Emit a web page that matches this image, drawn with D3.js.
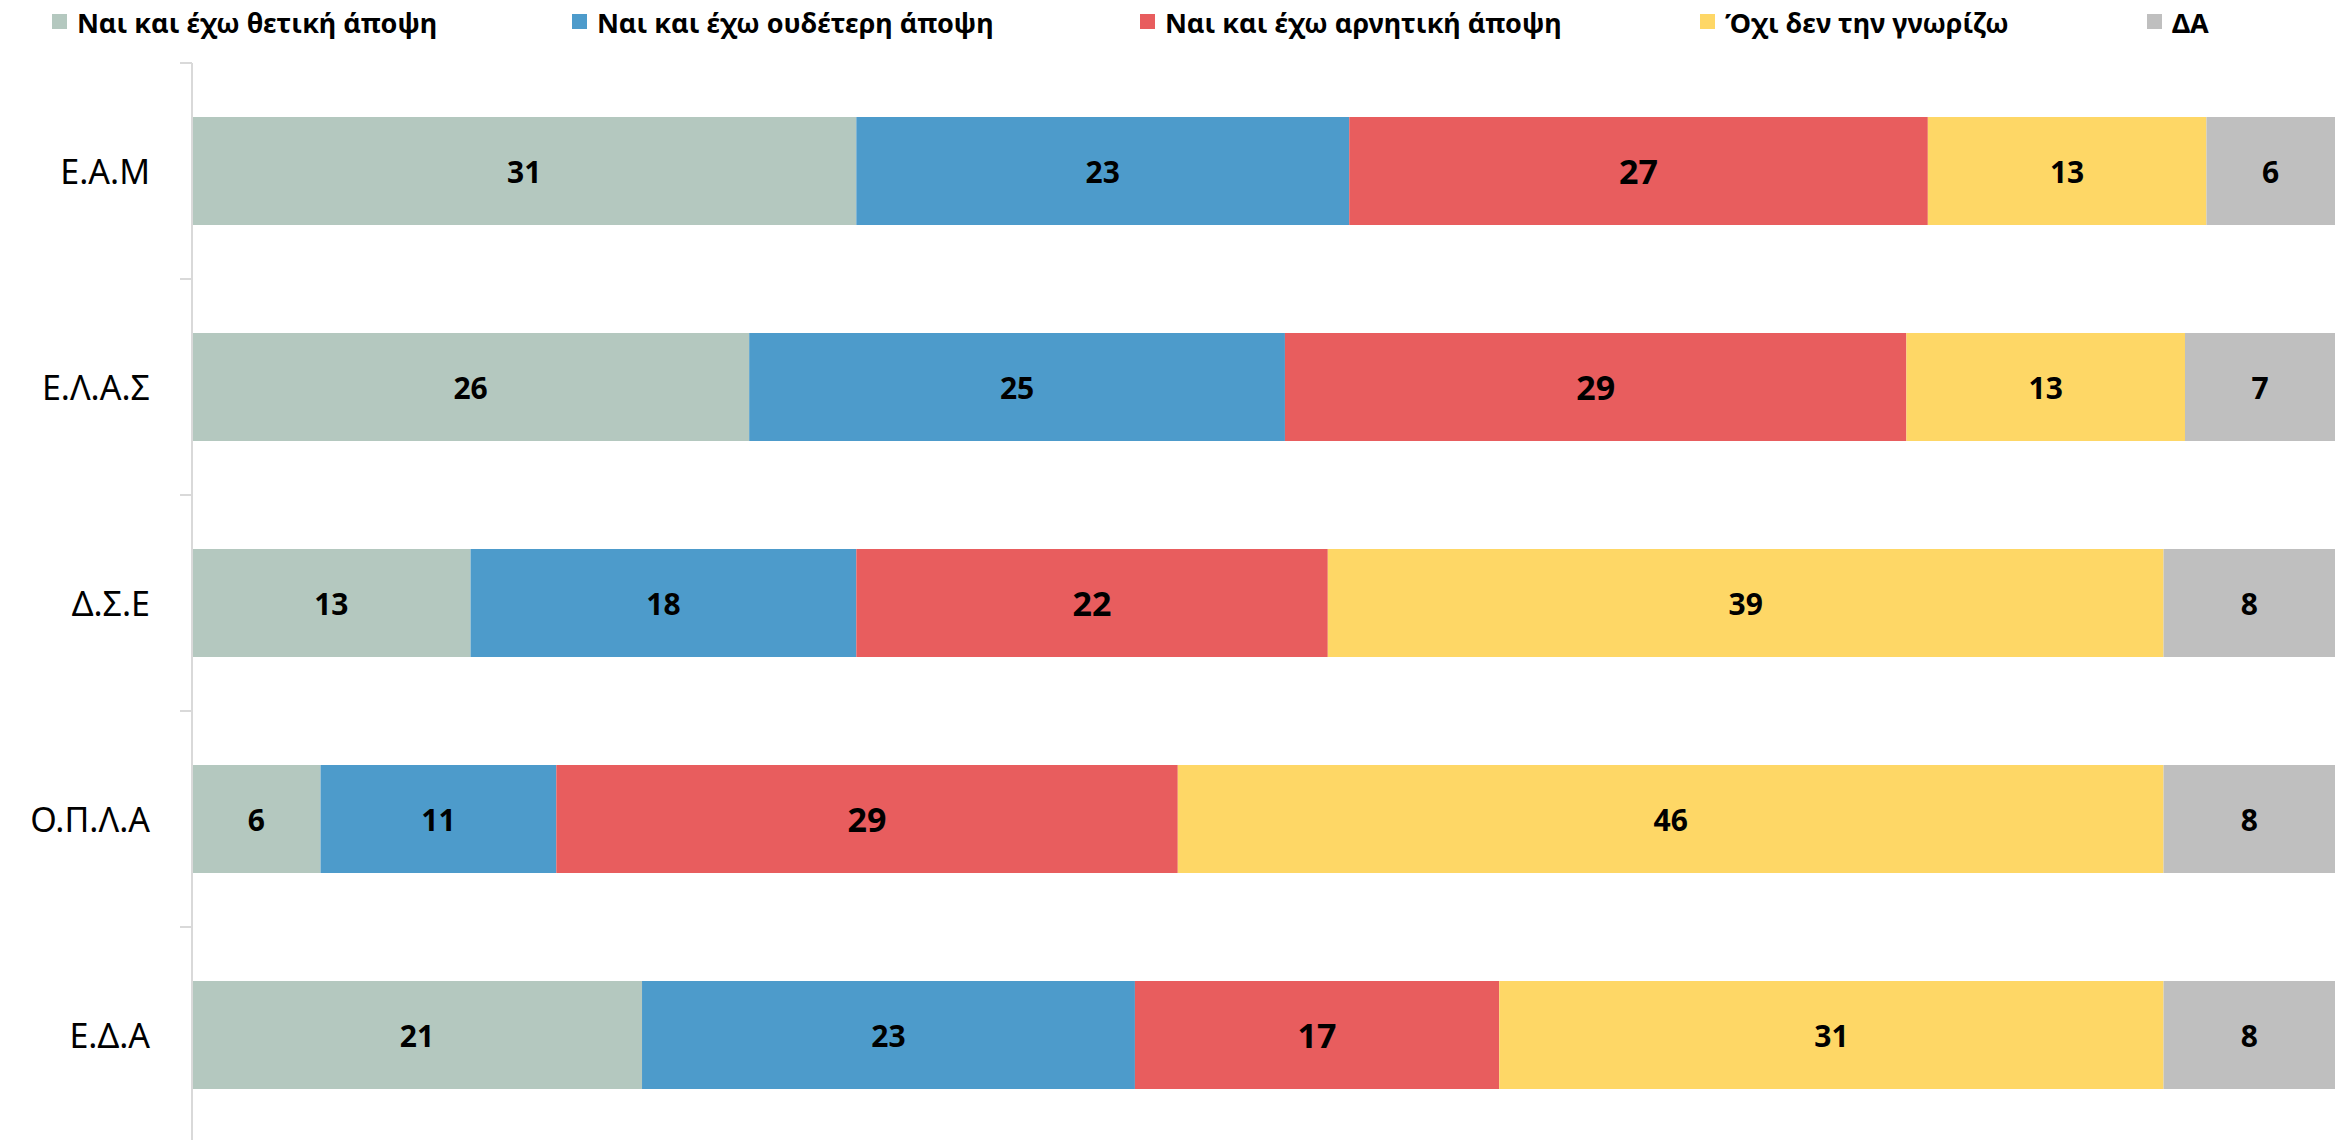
<!DOCTYPE html>
<html><head><meta charset="utf-8">
<script src="https://cdn.jsdelivr.net/npm/d3@7"></script>
<style>body{margin:0;background:#fff;} svg{display:block;}</style>
</head><body>
<script>
const categories = ["Ε.Α.Μ", "Ε.Λ.Α.Σ", "Δ.Σ.Ε", "Ο.Π.Λ.Α", "Ε.Δ.Α"];
const seriesNames = ["Ναι και έχω θετική άποψη", "Ναι και έχω ουδέτερη άποψη", "Ναι και έχω αρνητική άποψη", "Όχι δεν την γνωρίζω", "ΔΑ"];
const positive = [31, 26, 13, 6, 21];
const neutral  = [23, 25, 18, 11, 23];
const negative = [27, 29, 22, 29, 17];
const unknown  = [13, 13, 39, 46, 31];
const noAnswer = [6, 7, 8, 8, 8];
const seriesValues = [positive, neutral, negative, unknown, noAnswer];
const colors = ["#b4c8bf", "#4d9bcb", "#e85d5e", "#fed766", "#bfbfbf"];
const labelSizes = [30, 30, 34, 30, 30];
const legendX = [52, 572, 1140, 1700, 2147];

const W = 2349, H = 1140;
const svg = d3.select("body").append("svg").attr("width", W).attr("height", H);

const x = d3.scaleLinear().domain([0, 100]).range([192, 2335]);
const y = d3.scaleBand().domain(categories).range([63, 1143]).paddingInner(0.5).paddingOuter(0.25);

const rows = categories.map((c, i) => {
  let acc = 0;
  return seriesValues.map((vals, s) => {
    const seg = {cat: c, s, v: vals[i], x0: acc, x1: acc + vals[i]};
    acc += vals[i];
    return seg;
  });
}).flat();

const font = "'Noto Sans', 'DejaVu Sans', sans-serif";

// bars
svg.append("g").selectAll("rect").data(rows).join("rect")
  .attr("x", d => x(d.x0)).attr("width", d => x(d.x1) - x(d.x0))
  .attr("y", d => y(d.cat)).attr("height", y.bandwidth())
  .attr("fill", d => colors[d.s]);

// value labels
svg.append("g").selectAll("text").data(rows).join("text")
  .attr("x", d => (x(d.x0) + x(d.x1)) / 2)
  .attr("y", d => y(d.cat) + y.bandwidth() / 2)
  .attr("text-anchor", "middle").attr("dominant-baseline", "central")
  .attr("font-family", font).attr("font-weight", "bold")
  .attr("font-size", d => labelSizes[d.s]).attr("fill", "#000")
  .text(d => d.v);

// axis
const axisG = svg.append("g");
const gap = (y.step() - y.bandwidth()) / 2;
axisG.append("line").attr("x1", x(0)).attr("x2", x(0))
  .attr("y1", y.range()[0]).attr("y2", y.range()[1])
  .attr("stroke", "#d9d9d9").attr("stroke-width", 2);
axisG.selectAll("line.tick").data(categories).join("line").attr("class", "tick")
  .attr("x1", x(0) - 12).attr("x2", x(0))
  .attr("y1", d => y(d) - gap).attr("y2", d => y(d) - gap)
  .attr("stroke", "#d9d9d9").attr("stroke-width", 2);
axisG.selectAll("text").data(categories).join("text")
  .attr("x", x(0) - 42).attr("y", d => y(d) + y.bandwidth() / 2)
  .attr("text-anchor", "end").attr("dominant-baseline", "central")
  .attr("font-family", font).attr("font-size", 34).attr("fill", "#000")
  .text(d => d);

// legend
const leg = svg.append("g").selectAll("g").data(seriesNames).join("g")
  .attr("transform", (d, i) => `translate(${legendX[i]},14)`);
leg.append("rect").attr("width", 15).attr("height", 15).attr("fill", (d, i) => colors[i]);
leg.append("text").attr("x", 25).attr("y", 8)
  .attr("dominant-baseline", "central")
  .attr("font-family", font).attr("font-weight", "bold").attr("font-size", 27)
  .attr("fill", "#000").text(d => d);
</script>
</body></html>
